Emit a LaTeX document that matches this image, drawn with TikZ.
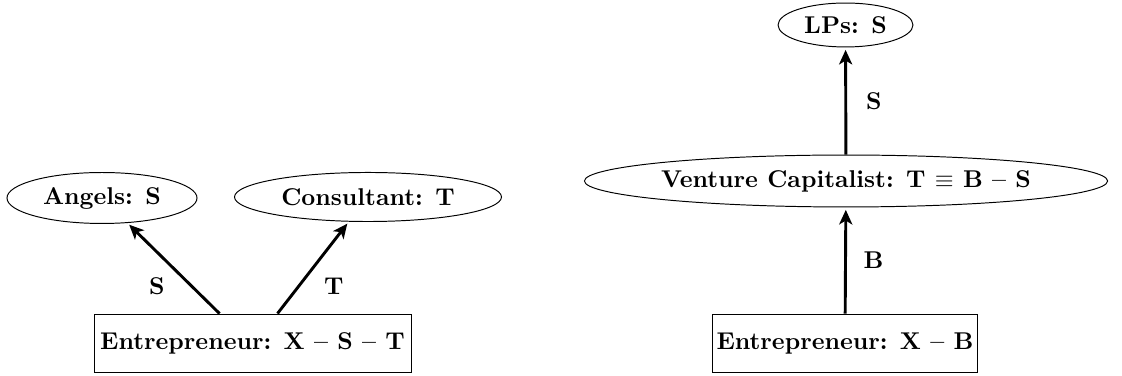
\documentclass[tikz,border=0pt]{standalone}
\usetikzlibrary{shapes.geometric,calc,arrows.meta}
\begin{document}
\begin{tikzpicture}[x=0.412pt,y=-0.412pt,
  font=\bfseries,
  ell/.style={draw,ellipse,inner sep=0pt,line width=0.4pt},
  box/.style={draw,rectangle,inner sep=0pt,line width=0.4pt,minimum height=24.3pt},
  arr/.style={-{Stealth[length=6pt,width=5.4pt,inset=1.6pt]},line width=1.2pt,shorten >=1pt},
  lab/.style={inner sep=0pt}]
\useasboundingbox (0,0) rectangle (1122,376);
% left diagram
\node[ell,minimum width=78.3pt,minimum height=21pt] (angels) at (102,198) {Angels: S};
\node[ell,minimum width=110pt,minimum height=20.2pt] (cons) at (368,197) {Consultant: T};
\node[box,minimum width=130.6pt] (ent1) at (252.5,343.5) {Entrepreneur: X -- S -- T};
\draw[arr] ($(ent1.north)+(-33,0)$) -- (angels) node[lab,pos=0.3,shift={(-35,0)}] {S};
\draw[arr] ($(ent1.north)+(25,0)$) -- (cons) node[lab,pos=0.3,shift={(35,0)}] {T};
% right diagram
\node[ell,minimum width=55.6pt,minimum height=18.1pt] (lps) at (845.5,25) {LPs: S};
\node[ell,minimum width=214pt,minimum height=21.4pt] (vc) at (846,181) {Venture Capitalist: T $\equiv$ B -- S};
\node[box,minimum width=108.8pt] (ent2) at (845,343.5) {Entrepreneur: X -- B};
\draw[arr] (vc) -- (lps) node[lab,midway,shift={(28,0)}] {S};
\draw[arr] (ent2) -- (vc) node[lab,midway,shift={(28,0)}] {B};
\end{tikzpicture}
\end{document}
